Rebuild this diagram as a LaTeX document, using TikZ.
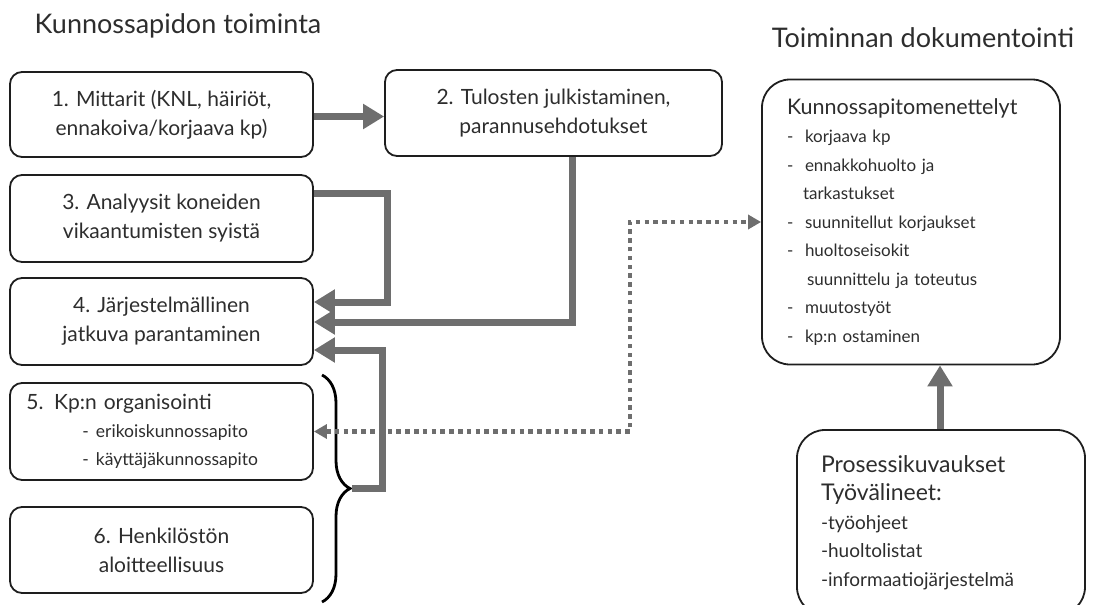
\documentclass[tikz,border=0pt]{standalone}
\usepackage{fontspec}
\setmainfont{Lato}
\usetikzlibrary{arrows.meta,decorations.pathreplacing,calc}

\definecolor{boxline}{RGB}{30,30,30}
\definecolor{txt}{RGB}{45,45,45}
\definecolor{flowgray}{RGB}{110,110,110}

\newcommand{\dashitem}{\makebox[18pt][l]{-}}

\begin{document}
\begin{tikzpicture}[x=1pt,y=-1pt,
  box/.style={draw=boxline, line width=1.8pt, rounded corners=12pt, text=txt,
    align=center, inner sep=0pt, minimum width=303pt,
    font=\fontsize{21}{29}\selectfont},
  title/.style={text=txt, inner sep=0pt, font=\fontsize{27}{30}\selectfont},
  flow/.style={draw=flowgray, line width=7pt,
    -{Triangle[length=21pt,width=24pt]}},
  dots/.style={draw=flowgray, line width=4.5pt, dash pattern=on 4.5pt off 4.3pt,
    {Triangle[length=13pt,width=14pt]}-{Triangle[length=13pt,width=14pt]}},
  bracestyle/.style={draw=black, line width=2.8pt,
    decorate, decoration={brace, amplitude=28pt}}]

\useasboundingbox (0,0) rectangle (1104,605);

% column headings
\node[title] (t1) at (178,26) {Kunnossapidon toiminta};
\node[title] (t2) at (923,38) {Toiminnan dokumentointi};

% left column: activities
\node[box, minimum height=85pt] (box1) at (161.5,114.5)
  {1. Mittarit (KNL, häiriöt,\\ennakoiva/korjaava kp)};
\node[box, minimum width=337pt, minimum height=86pt] (box2) at (553.5,113)
  {2. Tulosten julkistaminen,\\parannusehdotukset};
\node[box, minimum height=87pt] (box3) at (161.5,218.5)
  {3. Analyysit koneiden\\vikaantumisten syistä};
\node[box, minimum height=87pt] (box4) at (161.5,321.5)
  {4. Järjestelmällinen\\jatkuva parantaminen};
\node[box, minimum height=97pt, align=left, text width=270pt] (box5) at (161.5,431.5)
  {5. Kp:n organisointi\\[-1pt]
   {\fontsize{17.5}{28}\selectfont\hspace*{56pt}- erikoiskunnossapito}\\[-1pt]
   {\fontsize{17.5}{28}\selectfont\hspace*{56pt}- käyttäjäkunnossapito}};
\node[box, minimum height=86pt] (box6) at (161.5,550)
  {6. Henkilöstön\\aloitteellisuus};

% right column: documentation
\node[box, rounded corners=28pt, minimum width=298pt, minimum height=285pt,
      align=left, text width=248pt, font=\fontsize{17}{28.5}\selectfont]
  (box7) at (911,222)
  {{\fontsize{21.5}{28}\selectfont Kunnossapitomenettelyt}\\
   \dashitem korjaava kp\\
   \dashitem ennakkohuolto ja\\
   \hspace*{16pt}tarkastukset\\
   \dashitem suunnitellut korjaukset\\
   \dashitem huoltoseisokit\\
   \hspace*{20pt}suunnittelu ja toteutus\\
   \dashitem muutostyöt\\
   \dashitem kp:n ostaminen};
\node[box, rounded corners=28pt, minimum width=288pt, minimum height=185pt,
      align=left, text width=240pt, font=\fontsize{19}{28.5}\selectfont]
  (box8) at (941,522.5)
  {{\fontsize{23}{33}\selectfont Prosessikuvaukset}\\
   {\fontsize{23}{33}\selectfont Työvälineet:}\\
   -työohjeet\\
   -huoltolistat\\
   -informaatiojärjestelmä};

% brace grouping items 5 and 6
\draw[bracestyle] (322,375) -- (322,602);
\coordinate (bt) at (352,488.5);

% bend points of the connectors
\coordinate (k3) at (387,302);
\coordinate (k2) at (572,322);
\coordinate (k5) at (382,350);
\coordinate (dj) at (630,222);

% solid flows
\draw[flow] ([yshift=-2pt]box1.east) -- ([yshift=-2pt]box1.east -| box2.west);
\draw[flow] ([yshift=25.5pt]box3.east) -| (k3) -- (k3 -| box4.east);
\draw[flow] (k2 |- box2.south) -- (k2) -- (k2 -| box4.east);
\draw[flow] (bt) -| (k5) -- (k5 -| box4.east);
\draw[flow] ([xshift=-1pt]box8.north) -- ([xshift=-1pt]box8.north |- box7.south);

% dotted two-way link
\draw[dots] (box5.east) -| (dj) -- (dj -| box7.west);

\end{tikzpicture}
\end{document}
